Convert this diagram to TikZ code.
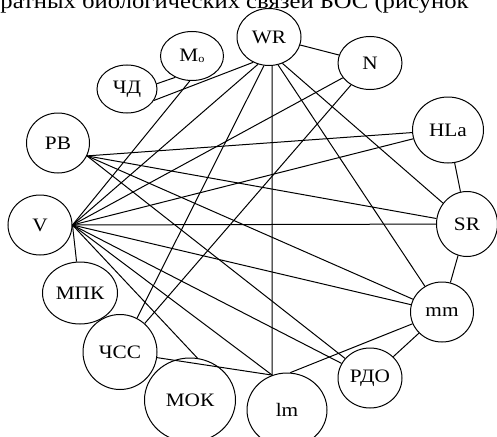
\documentclass[tikz,border=0pt]{standalone}
\usepackage{fontspec}
\usepackage{graphicx}
\setmainfont{Liberation Serif}
\usetikzlibrary{shapes.geometric}
\newcommand{\wide}[1]{\scalebox{1.12}[1]{#1}}
\begin{document}
\begin{tikzpicture}[x=1pt,y=-1pt,line width=1pt,
  el/.style={draw, ellipse, inner sep=0pt, font=\fontsize{19}{21}\selectfont},
  caption/.style={anchor=base west, inner sep=0pt, font=\fontsize{22}{24}\selectfont}]
\useasboundingbox (0,0) rectangle (497,436);
\clip (0,0) rectangle (497,436);
\node[caption] (title) at (0,9) {\wide{ратных биологических связей БОС (рисунок}};
\node[el, minimum width=64pt, minimum height=57pt] (WR) at (269,37) {\wide{WR}};
\node[el, minimum width=63pt, minimum height=49pt] (Mo) at (192,56) {\wide{M\raisebox{-0.15ex}{\fontsize{11}{11}\selectfont o}}};
\node[el, minimum width=60pt, minimum height=48pt] (CD) at (127,89) {\wide{ЧД}};
\node[el, minimum width=64pt, minimum height=53pt] (N) at (370,63) {\wide{N}};
\node[el, minimum width=71pt, minimum height=66pt] (HLa) at (448,130) {\wide{HLa}};
\node[el, minimum width=63pt, minimum height=60pt] (PB) at (58,143) {\wide{PB}};
\node[el, minimum width=64pt, minimum height=60pt] (V) at (40,225) {\wide{V}};
\node[el, minimum width=61pt, minimum height=65pt] (SR) at (467,224) {\wide{SR}};
\node[el, minimum width=75pt, minimum height=62pt] (MPK) at (80,293) {\wide{МПК}};
\node[el, minimum width=63pt, minimum height=60pt] (mm) at (442,312) {\wide{mm}};
\node[el, minimum width=74pt, minimum height=75pt] (CSS) at (120,352) {\wide{ЧСС}};
\node[el, minimum width=64pt, minimum height=60pt] (RDO) at (370,378) {\wide{РДО}};
\node[el, minimum width=91pt, minimum height=84pt] (MOK) at (190,400) {\wide{МОК}};
\node[el, minimum width=80pt, minimum height=74pt] (lm) at (287,410) {\wide{lm}};
% top cluster
\draw (Mo.-128) -- (CD.10);
\draw (WR.-122) -- (CD.-23);
\draw (WR) -- (N);
\draw (Mo.-95) -- (V.east);
\draw (WR.-112) -- (V.east);
\draw (WR.-100) -- (CSS);
\draw (WR.-84) -- (lm.113);
\draw (WR.-72) -- (mm);
\draw (WR.-63) -- (SR);
\draw (N) -- (V.east);
\draw (N) -- (CSS);
% V fan
\draw (V.east) -- (HLa);
\draw (V.east) -- (SR);
\draw (V.east) -- (mm);
\draw (V.east) -- (RDO);
\draw (V.east) -- (lm.113);
\draw (V.east) -- (MOK.80);
\draw (V.east) -- (MPK);
% PB fan
\draw (PB.-24) -- (HLa);
\draw (PB.-24) -- (SR);
\draw (PB.-24) -- (mm);
\draw (PB.-24) -- (RDO);
% rim
\draw (HLa) -- (SR);
\draw (SR) -- (mm);
\draw (mm) -- (RDO);
\draw (mm) -- (lm.85);
\draw (CSS) -- (lm.113);
\end{tikzpicture}
\end{document}
